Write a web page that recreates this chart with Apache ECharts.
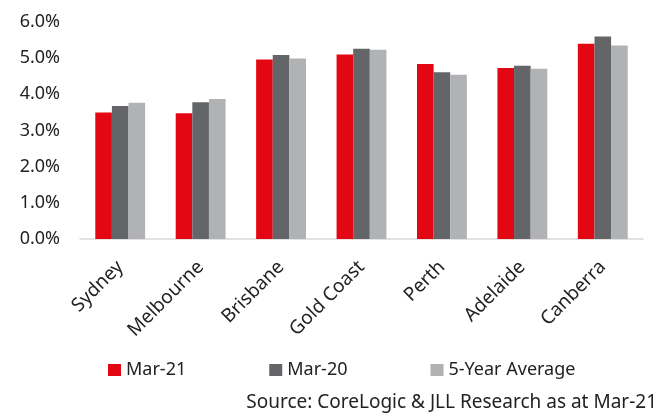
<!DOCTYPE html>
<html><head><meta charset="utf-8">
<script src="https://cdn.jsdelivr.net/npm/echarts@6/dist/echarts.min.js"></script>
<style>html,body{margin:0;padding:0;background:#fff}#c{width:665px;height:416px}</style>
</head><body><div id="c"></div>
<script>
const categories = ['Sydney','Melbourne','Brisbane','Gold Coast','Perth','Adelaide','Canberra'];
const mar21 = [3.50, 3.48, 4.96, 5.10, 4.84, 4.73, 5.40];
const mar20 = [3.68, 3.78, 5.09, 5.26, 4.61, 4.79, 5.60];
const avg5 = [3.77, 3.87, 4.99, 5.23, 4.54, 4.71, 5.35];
const yTicks = [0,1,2,3,4,5,6];
const seriesNames = ['Mar-21','Mar-20','5-Year Average'];
const colors = ['#E30613','#646569','#B1B2B4'];
const FONT = 'Noto Sans';
const chart = echarts.init(document.getElementById('c'));
const data = [mar21, mar20, avg5];
chart.setOption({
  animation:false,
  textStyle:{fontFamily:FONT},
  grid:{left:80,right:22,top:22,bottom:177},
  legend:{
    top:356, left:103, itemGap:83, itemWidth:13, itemHeight:12, icon:'rect',
    textStyle:{fontSize:18,color:'#222',fontFamily:FONT},
    data:seriesNames
  },
  graphic:[{type:'text',right:8,top:393,style:{text:'Source: CoreLogic & JLL Research as at Mar-21',fontSize:19,fill:'#222',fontFamily:FONT}}],
  xAxis:{
    type:'category', data:categories,
    axisLine:{lineStyle:{color:'#D9D9D9',width:1.5}},
    axisTick:{show:false},
    axisLabel:{rotate:45,fontSize:19,color:'#222',margin:25,interval:0,fontFamily:FONT}
  },
  yAxis:{
    type:'value', min:yTicks[0], max:yTicks[yTicks.length-1], interval:1,
    splitLine:{show:false}, axisLine:{show:false}, axisTick:{show:false},
    axisLabel:{formatter:v=>v.toFixed(1)+'%',fontSize:18,color:'#222',margin:20,fontFamily:FONT}
  },
  series: seriesNames.map((n,i)=>({
    name:n, type:'bar', data:data[i], barGap:'0%', barCategoryGap:'38%',
    itemStyle:{color:colors[i]}
  }))
});
</script></body></html>
